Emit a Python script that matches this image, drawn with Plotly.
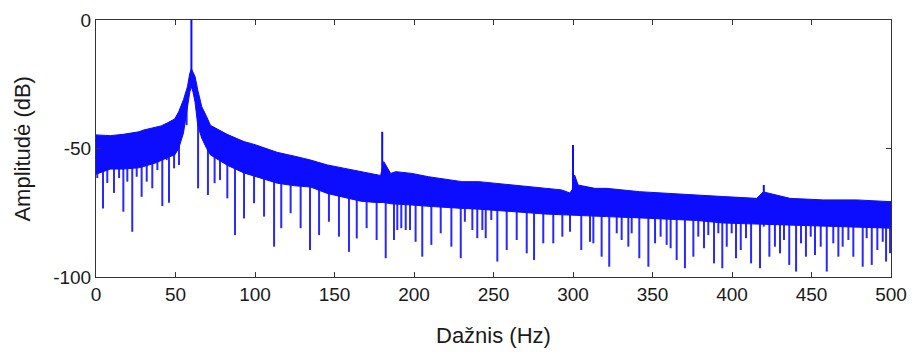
import numpy as np
import plotly.graph_objects as go

# ---- data ----
band_freq = [0, 9, 17, 27, 30, 38, 41, 45, 49.5, 52, 55, 57.5, 59, 60, 61, 62.3, 64, 66.5, 69.6, 72, 82.5, 93, 100,
             114, 125, 135, 145.5, 156, 166.5, 176, 179, 181, 185.3, 188.5, 198.8, 209.3, 219.8, 230.3, 240.8,
             251.3, 261.4, 271.9, 282.4, 292.8, 298, 299.5, 301, 303.2, 313.7, 321, 342, 363, 377.8, 394.6,
             415.5, 419.5, 420.5, 436.5, 457.4, 478.4, 500]
band_top = [-44.7, -45.0, -44.5, -43.5, -42.8, -41.8, -41.2, -40.0, -38.5, -35.7, -31, -26, -20.7, -19, -20.5, -22,
            -27.2, -33.7, -37.6, -41.0, -44.5, -47.3, -48.5, -51.5, -53.0, -54.5, -56.4, -57.7, -59, -60.3, -60.5,
            -55.1, -59.7, -59, -59.7, -61, -62, -62.9, -62.9, -63.5, -64.2, -64.9, -65.5, -66.1, -67.3, -66,
            -60.3, -64.2, -65.5, -65.5, -66.8, -67.4, -68.1, -68.7, -69.4, -67, -67, -69.4, -70, -70, -70.7]
band_bottom = [-60, -58, -58, -57.5, -57, -55.5, -54.5, -53.5, -52.5, -50, -44, -34, -28, -26, -28, -32, -41,
               -46, -50, -52.5, -56.5, -59.5, -61, -63.5, -64.5, -65, -67.5, -69, -70.5, -71, -71, -71,
               -71.5, -71.5, -72, -72.5, -73, -73.3, -73.6, -74, -74.5, -75, -75.5, -76, -76, -76, -76,
               -76, -76.3, -76.5, -77, -77.5, -78, -79, -79.5, -79.5, -79.5, -80, -80.3, -80.6, -81]

dip_freq = [0.8, 4.4, 7.1, 11.3, 14.5, 17.2, 19.7, 22.8, 25.6, 28.7, 31.9, 35.4, 38.6, 41.7, 44.5, 45.9, 49.1,
            52.2, 57, 64.2, 70.4, 74.6, 78, 82.6, 87.4, 93.1, 99.4, 105.7, 112, 116.5, 122.4, 128.7, 134.6,
            140.3, 146.5, 152.8, 159.1, 164, 170.2, 176.5, 182.2, 187.4, 189.5, 192, 194.8, 197.5, 201, 205.2,
            210.9, 216.8, 223.5, 229.4, 232, 236.7, 239.8, 243, 245.1, 248.6, 252.4, 258.3, 264.6, 270.9,
            275.5, 281.3, 287.6, 293.3, 298.1, 305.2, 310.7, 312.8, 318, 322.8, 327.5, 330.6, 334.8, 336.9,
            341.7, 347.4, 351.6, 355.1, 358.9, 361.4, 365.2, 370.4, 375.7, 378.8, 382.4, 385.1, 388.7, 391.4,
            393.9, 396.7, 399.8, 402.5, 405.5, 408.8, 412, 417.6, 420, 423.5, 427, 430.2, 432.7, 436, 440.3,
            443.4, 446.5, 449.5, 452.2, 455.8, 459.6, 463.7, 466.9, 469.6, 473.2, 476.3, 482.2, 484.7, 487.9,
            491.4, 494.8, 496.9, 499.4]
dip_db = [-61.5, -73.3, -63.4, -67.3, -61.5, -74.6, -62.9, -82.4, -61, -68.8, -62.9, -65.5, -58.4, -72.4, -54.5,
          -71.1, -57.7, -56.4, -40.9, -65.5, -68.1, -63.5, -62.3, -69.4, -83.7, -77.2, -71.3, -76.5, -88.2, -81,
          -75.2, -81, -89.5, -83.7, -78.5, -84.3, -90.2, -85, -81, -85.6, -92.7, -85.6, -81.7, -81, -81.7, -81.7,
          -86.3, -92.1, -87.5, -83, -88.2, -92.7, -78.5, -81.7, -84.9, -81.7, -84.9, -77.8, -94, -89.5, -85.6,
          -90.8, -93.4, -86.9, -86.9, -84.3, -82.4, -89.5, -86.3, -86.9, -92.1, -96, -83, -85.6, -88.2, -83,
          -92.7, -96, -86.9, -84.3, -87.5, -88.8, -93.4, -96.6, -92.1, -84.3, -88.8, -83.7, -94.7, -83, -96.6,
          -88.2, -83, -92.7, -89.5, -84.9, -94.7, -96.6, -80.4, -92.1, -88.2, -90.8, -85.6, -95.3, -97.9, -86.9,
          -92.1, -84.3, -91.4, -88.2, -97.9, -86.9, -92.1, -88.2, -85.6, -92.1, -96, -84.9, -95.3, -89.5, -86.3,
          -94, -90.8]

peak_freq = [60, 180, 300, 420]
peak_db = [0, -43.5, -48.6, -64.2]

x_tick_vals = [0, 50, 100, 150, 200, 250, 300, 350, 400, 450, 500]
y_tick_vals = [-100, -50, 0]
y_tick_text = ['-100', '-50', '0']

x_title = 'Dažnis (Hz)'
y_title = 'Amplitudė (dB)'

BLUE = 'rgb(12,12,255)'
DIP_BLUE = 'rgb(40,40,255)'
FONT = 'Liberation Sans, Arial, sans-serif'

fig = go.Figure()

bf = np.array(band_freq, dtype=float)
bb = np.array(band_bottom, dtype=float)
bt = np.array(band_top, dtype=float)

# downward spikes (drawn first so the dense band covers their roots)
dx, dy = [], []
for f, d in zip(dip_freq, dip_db):
    base = float(np.interp(f, bf, bb)) + 3
    dx += [f, f, None]
    dy += [base, d, None]
fig.add_trace(go.Scatter(x=dx, y=dy, mode='lines', line=dict(color=DIP_BLUE, width=2),
                         hoverinfo='skip', showlegend=False))

# dense band
fig.add_trace(go.Scatter(
    x=list(band_freq) + list(band_freq[::-1]),
    y=list(band_top) + list(band_bottom[::-1]),
    fill='toself', fillcolor=BLUE, mode='lines',
    line=dict(color=BLUE, width=1), hoverinfo='skip', showlegend=False))

# upward peaks
px, py = [], []
for f, d in zip(peak_freq, peak_db):
    base = float(np.interp(f, bf, bt)) - 3
    px += [f, f, None]
    py += [base, d, None]
fig.add_trace(go.Scatter(x=px, y=py, mode='lines', line=dict(color=BLUE, width=2),
                         hoverinfo='skip', showlegend=False))

axis_font = dict(family=FONT, size=19, color='#1a1a1a')
title_font = dict(family=FONT, size=22, color='#1a1a1a')
# the page body adds an 8px offset, so margins are shifted accordingly
fig.update_layout(
    width=915, height=354,
    margin=dict(l=88, r=32, t=12, b=85, autoexpand=False),
    paper_bgcolor='white', plot_bgcolor='white',
    font=axis_font,
    xaxis=dict(range=[0, 500], tickvals=x_tick_vals, ticks='inside', ticklen=5, tickcolor='#333',
               showline=True, linecolor='#333', linewidth=1, mirror='ticks', showgrid=False, zeroline=False,
               tickfont=axis_font, automargin=False),
    yaxis=dict(range=[-100, 0], tickvals=y_tick_vals, ticktext=y_tick_text, ticks='inside', ticklen=5,
               tickcolor='#333', showline=True, linecolor='#333', linewidth=1, mirror='ticks',
               showgrid=False, zeroline=False, tickfont=axis_font, automargin=False),
    annotations=[
        dict(text=x_title, xref='paper', yref='paper', x=0.5, y=-0.226, xanchor='center', yanchor='middle',
             showarrow=False, font=title_font),
        dict(text=y_title, xref='paper', yref='paper', x=-0.093, y=0.5, xanchor='center', yanchor='middle',
             textangle=-90, showarrow=False, font=title_font),
    ],
)

fig.write_html('out.html')
